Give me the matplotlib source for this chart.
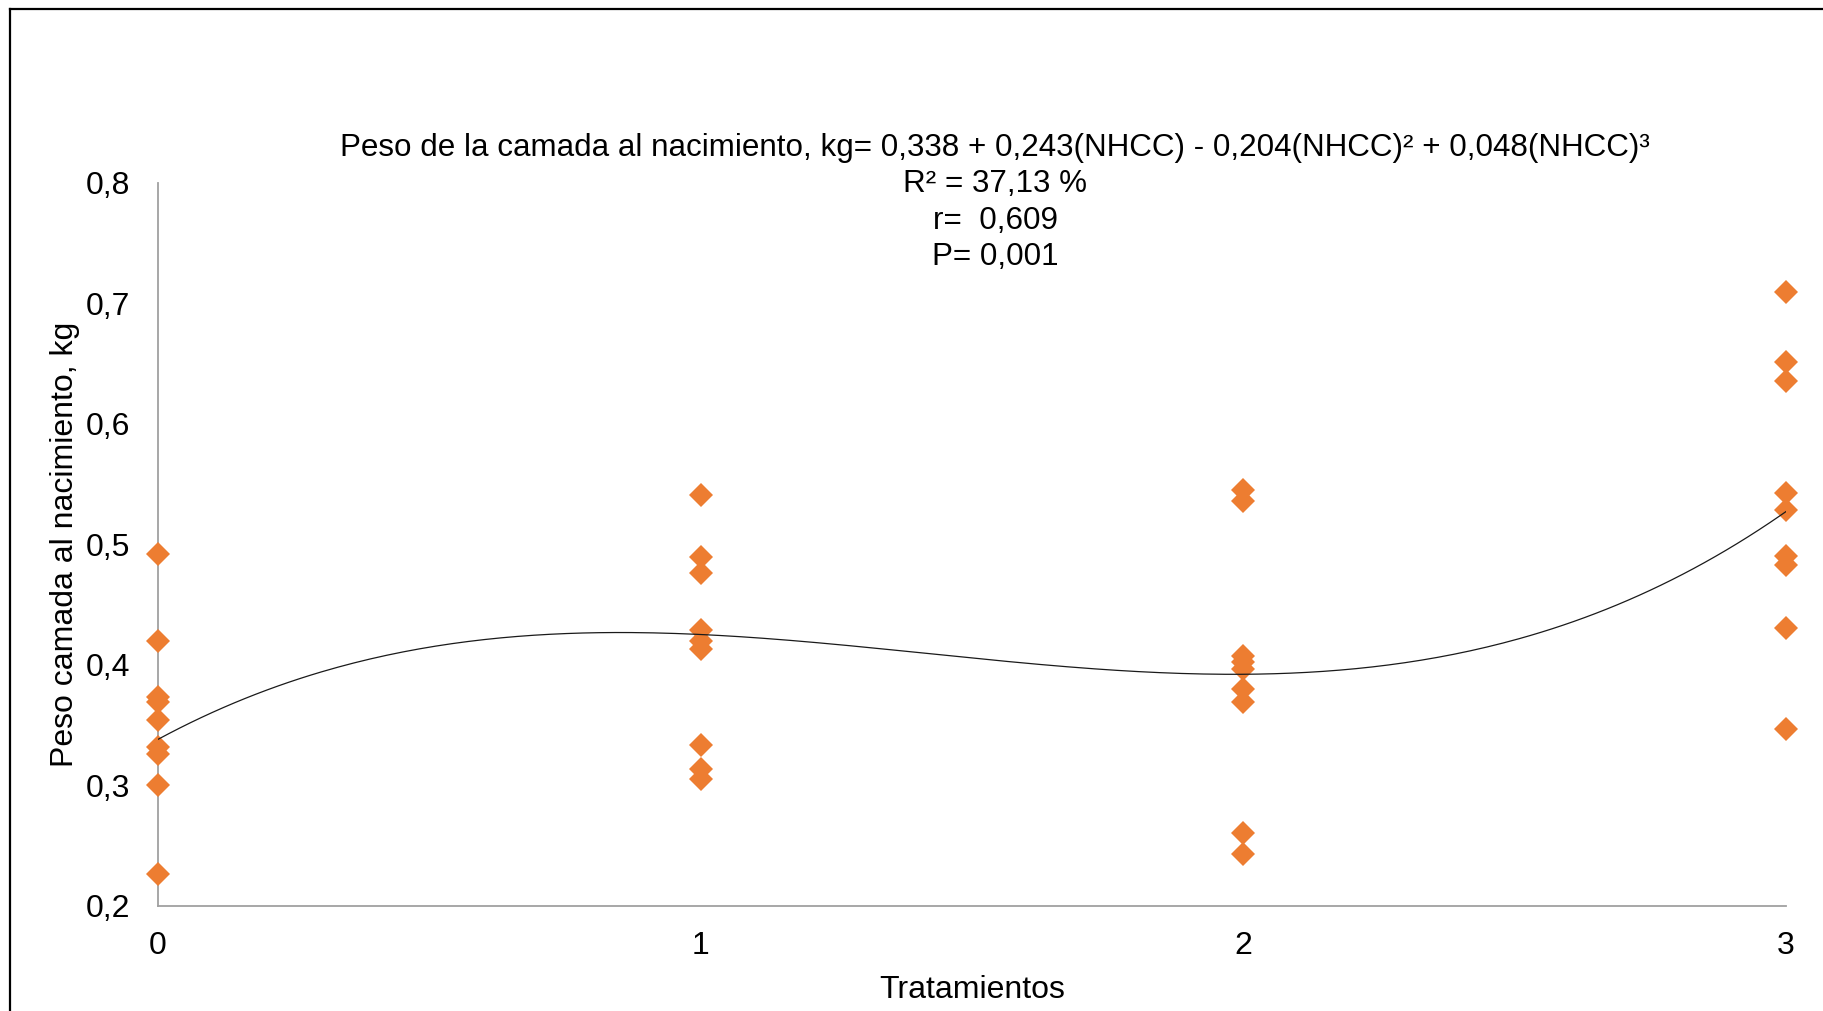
import numpy as np
import matplotlib.pyplot as plt
from matplotlib.lines import Line2D

plt.rcParams['font.family'] = ['Liberation Sans', 'DejaVu Sans']

# litter weight at birth (kg) per treatment
trat_0 = [0.492, 0.420, 0.373, 0.369, 0.354, 0.332, 0.326, 0.300, 0.226]
trat_1 = [0.541, 0.489, 0.476, 0.429, 0.420, 0.413, 0.333, 0.313, 0.305]
trat_2 = [0.545, 0.536, 0.407, 0.402, 0.396, 0.380, 0.369, 0.260, 0.243]
trat_3 = [0.709, 0.651, 0.635, 0.542, 0.528, 0.490, 0.483, 0.430, 0.347]
groups = [trat_0, trat_1, trat_2, trat_3]

# cubic fit coefficients: b0, b1, b2, b3
coefs = [0.338, 0.243, -0.204, 0.048]

yticks = [0.2, 0.3, 0.4, 0.5, 0.6, 0.7, 0.8]
xticks = [0, 1, 2, 3]

fig = plt.figure(figsize=(18.23, 10.11), dpi=100)
ax = fig.add_axes([158/1823, 105.3/1011, (1786-158)/1823, (905.7-182.5)/1011])

xs = np.concatenate([[i]*len(g) for i, g in enumerate(groups)])
ys = np.concatenate(groups)
ax.plot(xs, ys, linestyle='none', marker='D', markersize=12.5,
        color='#ED7D31', markeredgewidth=0, zorder=3, clip_on=False)

xf = np.linspace(0, 3, 300)
yf = coefs[0] + coefs[1]*xf + coefs[2]*xf**2 + coefs[3]*xf**3
ax.plot(xf, yf, color='#1a1a1a', linewidth=0.9, zorder=4)

ax.set_xlim(0, 3)
ax.set_ylim(0.2, 0.8)
ax.set_xticks(xticks)
ax.set_yticks(yticks)
ax.set_yticklabels([f'{v:.1f}'.replace('.', ',') for v in yticks])
ax.tick_params(length=0, labelsize=23, colors='#000000', pad=20)
ax.tick_params(axis='x', pad=18)
for s in ['top', 'right']:
    ax.spines[s].set_visible(False)
for s in ['left', 'bottom']:
    ax.spines[s].set_color('#a0a0a0')
    ax.spines[s].set_linewidth(1.3)

ax.set_xlabel('Tratamientos', fontsize=23, labelpad=10)
ax.set_ylabel('Peso camada al nacimiento, kg', fontsize=23, labelpad=4)

title = ['Peso de la camada al nacimiento, kg= 0,338 + 0,243(NHCC) - 0,204(NHCC)² + 0,048(NHCC)³',
         'R² = 37,13 %', 'r=  0,609', 'P= 0,001']
for i, line in enumerate(title):
    fig.text(995/1823, 1 - (148 + 36.4*i)/1011, line, ha='center', va='center', fontsize=22.6)

# outer frame
fig.add_artist(Line2D([10/1823, 10/1823], [0, 1 - 9/1011], color='black', linewidth=1.6,
                      transform=fig.transFigure))
fig.add_artist(Line2D([10/1823, 1], [1 - 9/1011, 1 - 9/1011], color='black', linewidth=1.6,
                      transform=fig.transFigure))

fig.savefig('out.png', dpi=100, facecolor='white')
